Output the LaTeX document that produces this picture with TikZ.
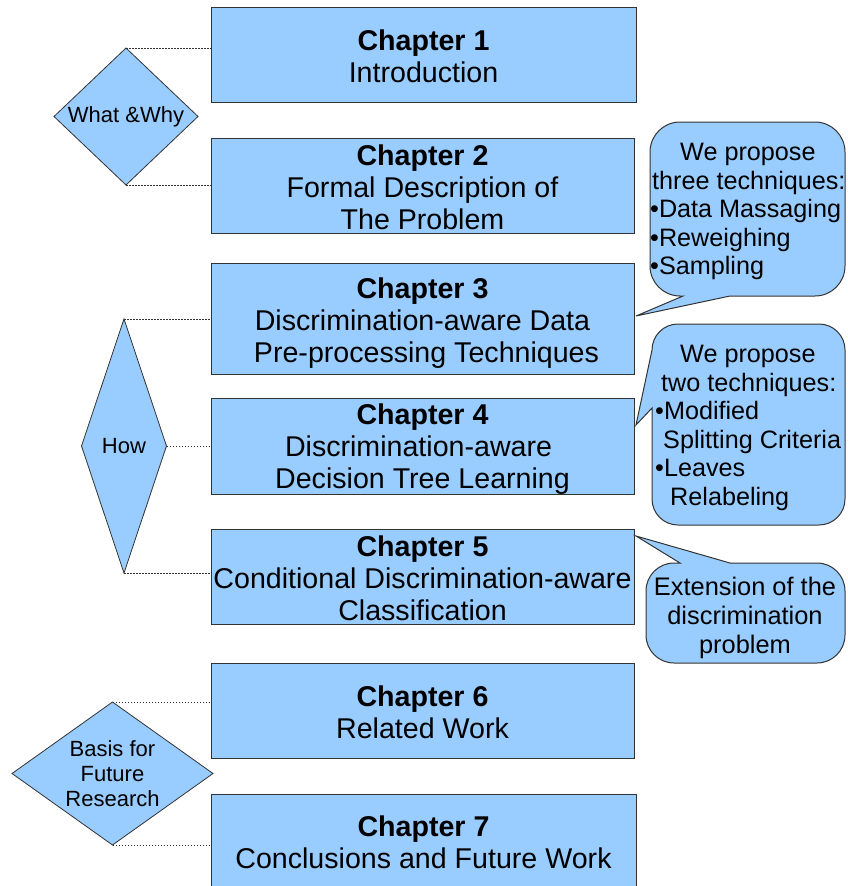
\documentclass[tikz,border=0pt]{standalone}
\usepackage{fontspec}
\setmainfont{Liberation Sans}
\usetikzlibrary{shapes.geometric}
\definecolor{boxblue}{HTML}{99CCFF}
\definecolor{edgegray}{HTML}{333333}
% line strut for chapter titles, so every line box has the same extent
\newcommand\chs{\rule[-3pt]{0pt}{29pt}}

\begin{document}
\begin{tikzpicture}[x=1pt,y=-1pt,
  chapbox/.style={draw=edgegray, fill=boxblue, line width=1pt, inner sep=0pt,
    minimum width=423pt, minimum height=95pt, align=center,
    font=\fontsize{28.6}{32}\selectfont},
  topic/.style={draw=edgegray, fill=boxblue, line width=0.8pt, diamond,
    inner sep=0pt, outer sep=0pt},
  topictext/.style={align=center, inner sep=0pt, font=\fontsize{22}{25}\selectfont},
  callout/.style={draw=edgegray, fill=boxblue, line width=1pt},
  callouttext/.style={inner sep=0pt, font=\fontsize{25.2}{28.5}\selectfont},
  link/.style={draw=edgegray, line width=0.8pt, dash pattern=on 1.5pt off 1.5pt}]

\useasboundingbox (0,0) rectangle (847,886);

% chapter boxes
\node[chapbox, minimum width=425pt] (ch1) at (423.5,54.5)
  {\chs\textbf{Chapter 1}\\\chs Introduction};
\node[chapbox] (ch2) at (422.5,185.5)
  {\chs\textbf{Chapter 2}\\Formal Description of\\\chs The Problem};
\node[chapbox, minimum height=111pt] (ch3) at (422.5,318.5)
  {\rule[-3pt]{0pt}{33pt}\textbf{Chapter 3}\\Discrimination-aware Data\\\mbox{}\ Pre-processing Techniques};
\node[chapbox] (ch4) at (422.5,446.5)
  {\chs\textbf{Chapter 4}\\Discrimination-aware\ \mbox{}\\\chs Decision Tree Learning};
\node[chapbox] (ch5) at (422.5,576.5)
  {\chs\textbf{Chapter 5}\\Conditional Discrimination-aware\\\chs Classification};
\node[chapbox] (ch6) at (422.5,710.5)
  {\chs\textbf{Chapter 6}\\\chs Related Work};
\node[chapbox, minimum width=425pt, minimum height=94pt] (ch7) at (423.5,841)
  {\chs\textbf{Chapter 7}\\\chs Conclusions and Future Work};

% grouping diamonds
\node[topic, minimum width=144pt, minimum height=137pt] (why) at (126,116.5) {};
\node[topictext] (whytxt) at (why.center) {What \&Why};
\node[topic, minimum width=85pt, minimum height=254pt] (how) at (124,446) {};
\node[topictext] (howtxt) at (how.center) {How};
\node[topic, minimum width=201pt, minimum height=143pt] (basis) at (112.5,773.5) {};
\node[topictext] (basistxt) at (basis.center) {Basis for\\Future\\Research};

% dotted links from diamonds to chapters
\draw[link] (why.north) -- (ch1.west |- why.north);
\draw[link] (why.south) -- (ch2.west |- why.south);
\draw[link] (how.north) -- (ch3.west |- how.north);
\draw[link] (how.east) -- (ch4.west |- how.east);
\draw[link] (how.south) -- (ch5.west |- how.south);
\draw[link] (basis.north) -- (ch6.west |- basis.north);
\draw[link] (basis.south) -- (ch7.west |- basis.south);

% callouts
\coordinate (tip1) at (636,316);
\coordinate (tip2) at (636,425);
\coordinate (tip3) at (636,536);

\draw[callout] (683,296) -- (tip1) -- (730,296) [rounded corners=30pt]
  -- (845,296) -- (845,122) -- (650,122) -- (650,296) [sharp corners] -- cycle;
\node[callouttext, anchor=north west, align=left] (note3) at (650,143)
  {\hspace*{30pt}We propose\\
   \hspace*{2pt}three techniques:\\
   •Data Massaging\\
   •Reweighing\\
   •Sampling};

\draw[callout] (652,408) -- (tip2) -- (652,350) [rounded corners=26pt]
  -- (652,324) -- (845,324) -- (845,525) -- (652,525) [sharp corners] -- cycle;
\node[callouttext, anchor=north west, align=left] (note4) at (655,345)
  {\hspace*{25pt}We propose\\
   \hspace*{6pt}two techniques:\\
   •Modified\\
   \hspace*{8pt}Splitting Criteria\\
   •Leaves\\
   \hspace*{15pt}Relabeling};

\draw[callout] (730,563) -- (tip3) -- (680,563) [rounded corners=28pt]
  -- (646,563) -- (646,663) -- (845,663) -- (845,563) [sharp corners] -- cycle;
\node[callouttext, align=center, font=\fontsize{25.4}{29}\selectfont] (note5) at (745,617.5)
  {Extension of the\\discrimination\\problem};

\end{tikzpicture}
\end{document}
